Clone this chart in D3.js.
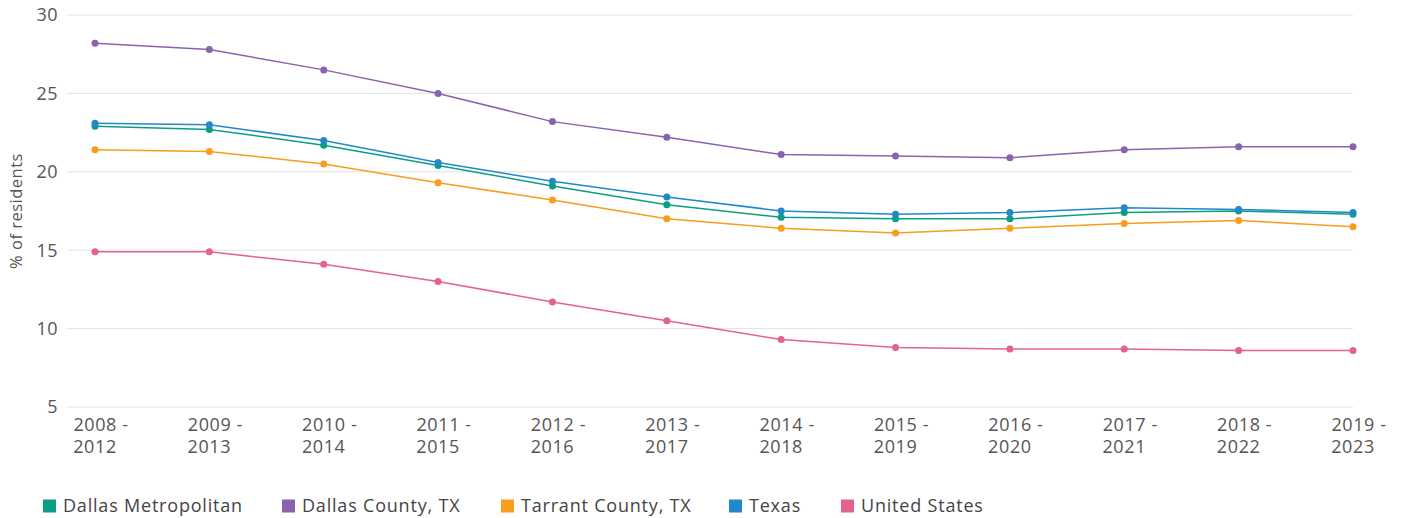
<!DOCTYPE html>
<html><head><meta charset="utf-8">
<script src="https://cdn.jsdelivr.net/npm/d3@7"></script>
<style>
body{margin:0;background:#fff;}
text{font-family:"Open Sans",Lato,sans-serif;}
</style></head>
<body><svg id="c" width="1401" height="518"></svg>
<script>
const periods = ["2008 - 2012","2009 - 2013","2010 - 2014","2011 - 2015","2012 - 2016","2013 - 2017","2014 - 2018","2015 - 2019","2016 - 2020","2017 - 2021","2018 - 2022","2019 - 2023"];
const seriesNames = ["Dallas Metropolitan","Dallas County, TX","Tarrant County, TX","Texas","United States"];
const seriesColors = ["#0a9e84","#8b62ae","#f89d1e","#2188cc","#e5628a"];
const dallasMetro  = [22.9,22.7,21.7,20.4,19.1,17.9,17.1,17.0,17.0,17.4,17.5,17.3];
const dallasCounty = [28.2,27.8,26.5,25.0,23.2,22.2,21.1,21.0,20.9,21.4,21.6,21.6];
const tarrant      = [21.4,21.3,20.5,19.3,18.2,17.0,16.4,16.1,16.4,16.7,16.9,16.5];
const texas        = [23.1,23.0,22.0,20.6,19.4,18.4,17.5,17.3,17.4,17.7,17.6,17.4];
const usa          = [14.9,14.9,14.1,13.0,11.7,10.5,9.3,8.8,8.7,8.7,8.6,8.6];
const yTicks = [5,10,15,20,25,30];
const seriesValues = [dallasMetro,dallasCounty,tarrant,texas,usa];

const svg = d3.select("#c");
const x = d3.scalePoint().domain(periods).range([95,1353]);
const y = d3.scaleLinear().domain([5,30]).range([407,15]);
const gridLeft = 67, gridRight = 1353;

svg.append("g").selectAll("line").data(yTicks).join("line")
  .attr("x1",gridLeft).attr("x2",gridRight)
  .attr("y1",d=>y(d)).attr("y2",d=>y(d))
  .attr("stroke","#e3e3e3").attr("stroke-width",1);

svg.append("g").selectAll("text").data(yTicks).join("text")
  .attr("x",58).attr("y",d=>y(d)).attr("dy","0.35em")
  .attr("text-anchor","end").attr("font-size",18).attr("fill","#555")
  .attr("letter-spacing",0.4)
  .text(d=>d);

svg.append("text").attr("transform","translate(22,211) rotate(-90)")
  .attr("text-anchor","middle").attr("font-size",16.5).attr("fill","#555")
  .attr("letter-spacing",0.5)
  .text("% of residents");

const xg = svg.append("g").attr("font-size",18).attr("fill","#555").attr("letter-spacing",0.6);
xg.selectAll("text.l1").data(periods).join("text").attr("class","l1")
  .attr("text-anchor","middle").attr("x",d=>x(d)+6).attr("y",431)
  .text(d=>d.split(" - ")[0]+" -");
xg.selectAll("text.l2").data(periods).join("text").attr("class","l2")
  .attr("text-anchor","middle").attr("x",d=>x(d)).attr("y",453)
  .text(d=>d.split(" - ")[1]);

const line = d3.line().x((d,i)=>x(periods[i])).y(d=>y(d));
const order = [4,2,0,3,1];
order.forEach(si=>{
  const g = svg.append("g");
  g.append("path").datum(seriesValues[si]).attr("d",line)
    .attr("fill","none").attr("stroke",seriesColors[si]).attr("stroke-width",1.5);
  g.selectAll("circle").data(seriesValues[si]).join("circle")
    .attr("cx",(d,i)=>x(periods[i])).attr("cy",d=>y(d)).attr("r",3.5)
    .attr("fill",seriesColors[si]);
});

const legendX = [43,282,501,729,841];
const lg = svg.append("g").selectAll("g").data(seriesNames).join("g")
  .attr("transform",(d,i)=>`translate(${legendX[i]},506)`);
lg.append("rect").attr("x",0).attr("y",-6.5).attr("width",13).attr("height",13)
  .attr("fill",(d,i)=>seriesColors[i]);
lg.append("text").attr("x",20).attr("y",0).attr("dy","0.35em")
  .attr("font-size",18).attr("fill","#444").attr("letter-spacing",0.8).text(d=>d);
</script></body></html>
